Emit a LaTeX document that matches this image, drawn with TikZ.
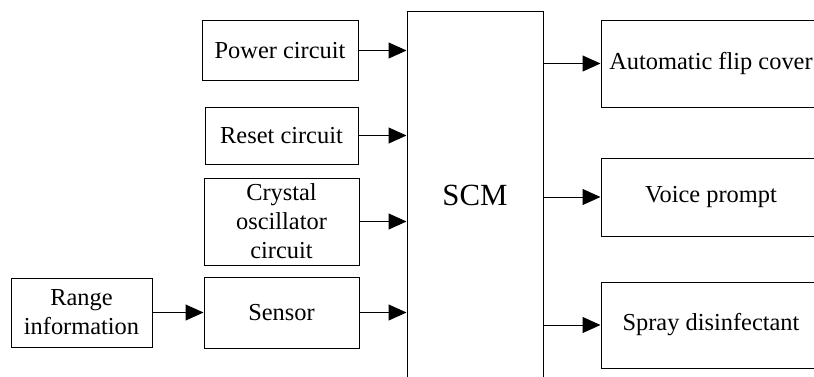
\documentclass[tikz,border=0pt]{standalone}
\usepackage{fontspec}
\setmainfont{Liberation Serif}
\usepackage{tikz}
\usetikzlibrary{arrows.meta,positioning}

\begin{document}
\begin{tikzpicture}[
    x=0.5pt, y=-0.5pt,
    box/.style={draw, line width=0.5pt, inner sep=0pt, align=center, font=\rmfamily\fontsize{12.2}{14.5}\selectfont},
    arrow/.style={-{Triangle[length=9pt, width=8pt]}, line width=0.5pt}
]
\useasboundingbox (0,0) rectangle (814,376);
\clip (0,0) rectangle (814,376);
% input side
\node[box, minimum width=78pt, minimum height=30pt] (power) at (280,50.5) {Power circuit};
\node[box, minimum width=76.5pt, minimum height=28.5pt] (reset) at (281.5,135.5) {Reset circuit};
\node[box, minimum width=77.5pt, minimum height=43.5pt] (crystal) at (281.5,221.5) {Crystal\\oscillator\\circuit};
\node[box, minimum width=77.5pt, minimum height=35.5pt] (sensor) at (281.5,312.5) {Sensor};
\node[box, minimum width=70.5pt, minimum height=34.5pt] (range) at (81.5,312.5) {Range\\information};
% controller
\node[box, minimum width=68pt, minimum height=184.5pt, font=\rmfamily\fontsize{15.4}{18}\selectfont] (scm) at (475,195.5) {SCM};
% output side
\node[box, minimum width=110pt, minimum height=43.5pt] (flip) at (711,63.5) {Automatic flip cover};
\node[box, minimum width=110pt, minimum height=39pt] (voice) at (711,197) {Voice prompt};
\node[box, minimum width=110pt, minimum height=43pt] (spray) at (711,325) {Spray disinfectant};

\draw[arrow] (range) -- (sensor);
\draw[arrow] (power) -- (power -| scm.west);
\draw[arrow] (reset) -- (reset -| scm.west);
\draw[arrow] (crystal) -- (crystal -| scm.west);
\draw[arrow] (sensor) -- (sensor -| scm.west);
\draw[arrow] (flip -| scm.east) -- (flip);
\draw[arrow] (voice -| scm.east) -- (voice);
\draw[arrow] (spray -| scm.east) -- (spray);
\end{tikzpicture}
\end{document}
